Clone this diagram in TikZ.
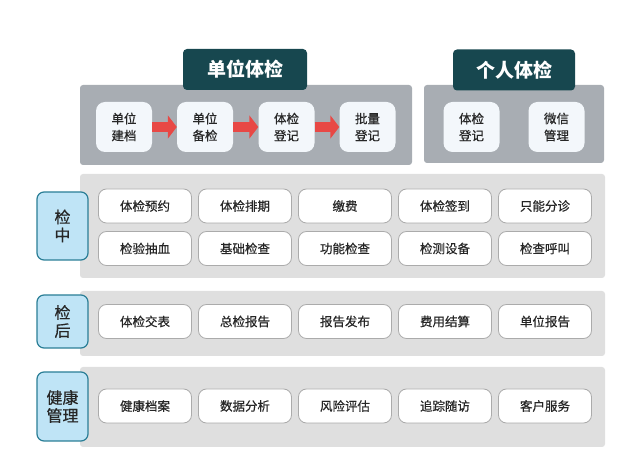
\documentclass[tikz,border=0pt]{standalone}
\usepackage{fontspec}
\setmainfont{Noto Sans CJK SC}
\newfontfamily\boxfont[FakeBold=0.6]{Noto Sans CJK SC}
\usetikzlibrary{arrows.meta}
\definecolor{titlebg}{HTML}{17474F}
\definecolor{toppanel}{HTML}{A8ADB3}
\definecolor{stepfill}{HTML}{F3F7FB}
\definecolor{flowred}{HTML}{E84845}
\definecolor{lowpanel}{HTML}{DFDFDF}
\definecolor{itemline}{HTML}{ABABAB}
\definecolor{phasefill}{HTML}{BFE4F6}
\definecolor{phaseline}{HTML}{2A7E96}
\definecolor{textgrey}{HTML}{262626}
\begin{document}
\begin{tikzpicture}[x=1pt,y=-1pt,
	panel/.style={rounded corners=3pt},
	title/.style={fill=titlebg,rounded corners=4pt,minimum width=124pt,minimum height=41pt,text=white,font=\fontsize{19}{19}\selectfont\bfseries},
	stepbox/.style={fill=stepfill,rounded corners=9pt,minimum width=56pt,minimum height=50pt,align=center,text=textgrey,font=\boxfont\fontsize{12.5}{17}\selectfont},
	itembox/.style={draw=itemline,line width=0.8pt,fill=white,rounded corners=8pt,minimum width=93pt,minimum height=34pt,text=textgrey,font=\boxfont\fontsize{12.5}{15}\selectfont},
	phase/.style={draw=phaseline,line width=1.2pt,fill=phasefill,rounded corners=7pt,minimum width=51pt,align=center,text=textgrey,font=\boxfont\fontsize{16}{18}\selectfont},
	flow/.style={flowred,line width=10pt,-{Triangle[length=9pt,width=23pt]}}]
	\useasboundingbox (0,0) rectangle (622,470);
	\fill[panel,toppanel] (80,85) rectangle (412,165);
	\fill[panel,toppanel] (424,85) rectangle (604,163);
	\fill[panel,lowpanel] (80,174) rectangle (605,278);
	\fill[panel,lowpanel] (80,291) rectangle (605,356);
	\fill[panel,lowpanel] (80,367) rectangle (605,447);
	\node[title] (unit) at (245,69.5) {单位体检};
	\node[title,minimum width=122pt] (person) at (514,70) {个人体检};
	\node[stepbox] (u1) at (124,127) {单位\\建档};
	\node[stepbox] (u2) at (205,127) {单位\\备检};
	\node[stepbox] (u3) at (286.5,127) {体检\\登记};
	\node[stepbox] (u4) at (367.5,127) {批量\\登记};
	\node[stepbox] (p1) at (471.5,127) {体检\\登记};
	\node[stepbox] (p2) at (556.5,127) {微信\\管理};
	\draw[flow] (u1) -- (u2);
	\draw[flow] (u2) -- (u3);
	\draw[flow] (u3) -- (u4);
	\node[phase,minimum height=68pt] (mid) at (62.5,226) {检\\中};
	\node[itembox] (m1) at (145,206) {体检预约};
	\node[itembox] (m2) at (245,206) {体检排期};
	\node[itembox] (m3) at (345,206) {缴费};
	\node[itembox] (m4) at (445,206) {体检签到};
	\node[itembox] (m5) at (545,206) {只能分诊};
	\node[itembox] (m6) at (145,248.5) {检验抽血};
	\node[itembox] (m7) at (245,248.5) {基础检查};
	\node[itembox] (m8) at (345,248.5) {功能检查};
	\node[itembox] (m9) at (445,248.5) {检测设备};
	\node[itembox] (m10) at (545,248.5) {检查呼叫};
	\node[phase,minimum height=53pt] (post) at (62.5,321.5) {检\\后};
	\node[itembox] (a1) at (145,321.5) {体检交表};
	\node[itembox] (a2) at (245,321.5) {总检报告};
	\node[itembox] (a3) at (345,321.5) {报告发布};
	\node[itembox] (a4) at (445,321.5) {费用结算};
	\node[itembox] (a5) at (545,321.5) {单位报告};
	\node[phase,minimum height=69pt] (health) at (62.5,406.5) {健康\\管理};
	\node[itembox] (h1) at (145,406) {健康档案};
	\node[itembox] (h2) at (245,406) {数据分析};
	\node[itembox] (h3) at (345,406) {风险评估};
	\node[itembox] (h4) at (445,406) {追踪随访};
	\node[itembox] (h5) at (545,406) {客户服务};
\end{tikzpicture}
\end{document}
